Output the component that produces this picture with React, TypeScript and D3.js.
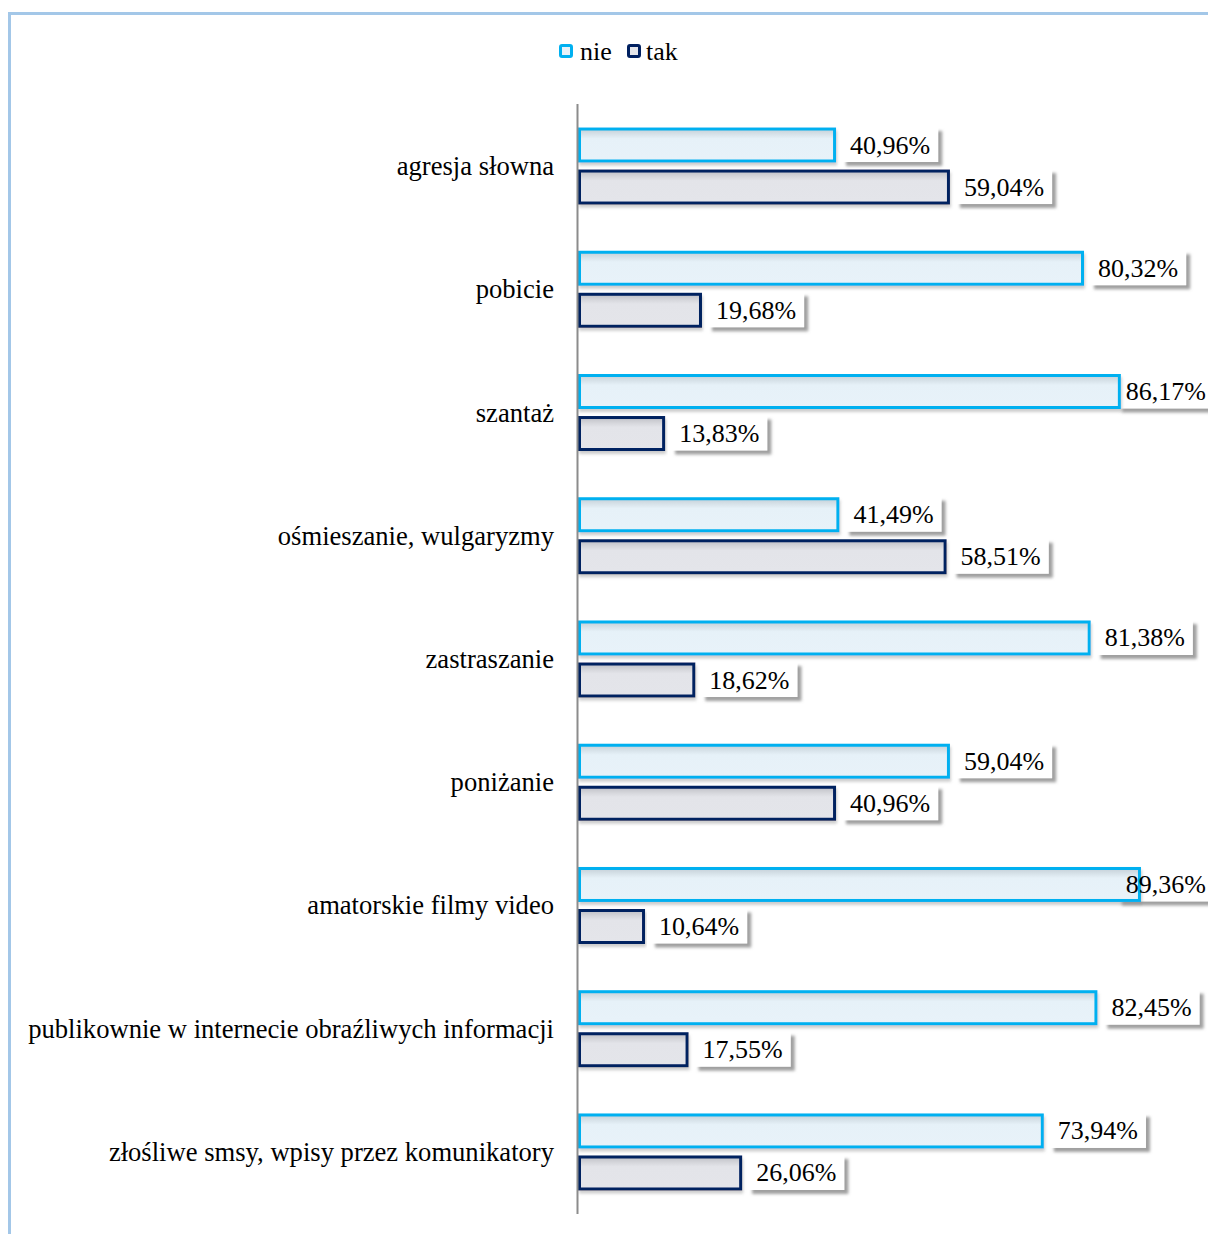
import React from "react";
import * as d3 from "d3";

const categories = [
  "agresja słowna",
  "pobicie",
  "szantaż",
  "ośmieszanie, wulgaryzmy",
  "zastraszanie",
  "poniżanie",
  "amatorskie filmy video",
  "publikownie w internecie obraźliwych informacji",
  "złośliwe smsy, wpisy przez komunikatory",
];
const seriesNames = ["nie", "tak"];
const nieValues = [40.96, 80.32, 86.17, 41.49, 81.38, 59.04, 89.36, 82.45, 73.94];
const takValues = [59.04, 19.68, 13.83, 58.51, 18.62, 40.96, 10.64, 17.55, 26.06];

const W = 1208;
const H = 1234;
const FONT = "'Liberation Serif', 'Times New Roman', serif";
const FS = 26;
const CAT_FS = 26.6;

const strokeColors: Record<string, string> = { nie: "#00B0F0", tak: "#002060" };
const fillIds: Record<string, string> = { nie: "gNie", tak: "gTak" };

function fmt(v: number) {
  return v.toFixed(2).replace(".", ",") + "%";
}

function textWidth(s: string) {
  let w = 0;
  for (const ch of s) {
    if (/[0-9]/.test(ch)) w += 0.5;
    else if (ch === ",") w += 0.25;
    else if (ch === "%") w += 0.833;
    else w += 0.5;
  }
  return w * FS;
}

export default function App() {
  const x = d3.scaleLinear().domain([0, 100]).range([578, 1208]);
  const y0 = d3.scaleBand<string>().domain(categories).range([104.4, 1213.6]);
  const y1 = d3
    .scaleBand<string>()
    .domain(seriesNames)
    .range([0, y0.bandwidth()])
    .paddingInner(0.167)
    .paddingOuter(0.55);

  const data = categories.map((c, i) => ({ c, vals: { nie: nieValues[i], tak: takValues[i] } as Record<string, number> }));

  const labels = data.flatMap((d) =>
    seriesNames.map((s) => {
      const v = d.vals[s];
      const label = fmt(v);
      const tw = textWidth(label);
      const cy = y0(d.c)! + y1(s)! + y1.bandwidth() / 2;
      let tx = x(v) + 14;
      if (tx + tw > W - 2) tx = W - 2 - tw;
      return { key: d.c + s, label, tw, cy, tx };
    })
  );

  return (
    <svg width={W} height={H} style={{ display: "block", position: "absolute", left: 0, top: 0 }}>
      <defs>
        <linearGradient id="gNie" x1="0" y1="0" x2="0" y2="1">
          <stop offset="0" stopColor="#C5D0D8" />
          <stop offset="0.18" stopColor="#D9E4EB" />
          <stop offset="0.3" stopColor="#E6F1F8" />
          <stop offset="1" stopColor="#E8F2F9" />
        </linearGradient>
        <linearGradient id="gTak" x1="0" y1="0" x2="0" y2="1">
          <stop offset="0" stopColor="#BFC0C6" />
          <stop offset="0.18" stopColor="#D6D7DC" />
          <stop offset="0.3" stopColor="#E3E4E9" />
          <stop offset="1" stopColor="#E4E5EA" />
        </linearGradient>
        <filter id="shadow" x="-20%" y="-30%" width="150%" height="180%">
          <feDropShadow dx="4" dy="4" stdDeviation="1.8" floodColor="#808080" floodOpacity="0.75" />
        </filter>
        <filter id="barShadow" x="-5%" y="-30%" width="110%" height="180%">
          <feDropShadow dx="1" dy="3" stdDeviation="1.5" floodColor="#909090" floodOpacity="0.45" />
        </filter>
      </defs>
      <rect x={0} y={0} width={W} height={H} fill="#fff" />
      <path d={`M9.5,${H} L9.5,13.5 L${W},13.5`} fill="none" stroke="#A3C7E8" strokeWidth={3} />

      {[
        { name: "nie", mx: 559, tx: 580 },
        { name: "tak", mx: 627, tx: 646 },
      ].map((l) => (
        <g key={l.name}>
          <rect x={l.mx + 1.5} y={45.5} width={11} height={11} rx={1.5} fill={l.name === "nie" ? "#E8F2F9" : "#E4E5EA"} stroke={strokeColors[l.name]} strokeWidth={3} />
          <text x={l.tx} y={51} dominantBaseline="central" fontFamily={FONT} fontSize={FS} fill="#000">
            {l.name}
          </text>
        </g>
      ))}

      {labels.map((l) => (
        <rect key={l.key} x={l.tx - 8} y={l.cy - 18} width={l.tw + 16} height={35} fill="#fff" filter="url(#shadow)" />
      ))}

      {data.map((d) => (
        <g key={d.c} transform={`translate(0,${y0(d.c)})`}>
          {seriesNames.map((s) => {
            const v = d.vals[s];
            const by = y1(s)!;
            const bh = y1.bandwidth();
            return (
              <rect
                key={s}
                x={x(0) + 1.5}
                y={by + 1.5}
                width={x(v) - x(0) - 3}
                height={bh - 3}
                fill={`url(#${fillIds[s]})`}
                stroke={strokeColors[s]}
                strokeWidth={3}
                filter="url(#barShadow)"
              />
            );
          })}
        </g>
      ))}

      <line x1={577.5} x2={577.5} y1={104} y2={1214} stroke="#8C8C8C" strokeWidth={2} />

      {categories.map((c) => (
        <text key={c} x={554} y={y0(c)! + y0.bandwidth() / 2} textAnchor="end" dominantBaseline="central" fontFamily={FONT} fontSize={CAT_FS} fill="#000">
          {c}
        </text>
      ))}

      {labels.map((l) => (
        <text key={l.key} x={l.tx} y={l.cy} dominantBaseline="central" fontFamily={FONT} fontSize={FS} fill="#000">
          {l.label}
        </text>
      ))}
    </svg>
  );
}
